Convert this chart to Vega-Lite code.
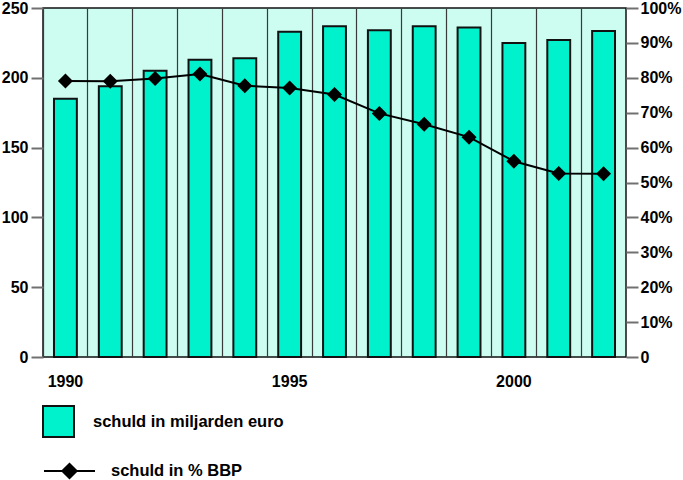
{
  "$schema": "https://vega.github.io/schema/vega-lite/v6.json",
  "width": 583,
  "height": 349,
  "autosize": {"type": "none"},
  "padding": {"left": 43, "top": 8, "right": 57, "bottom": 123},
  "background": "white",
  "config": {
    "view": {"fill": "#CDFCF1", "stroke": "#111111", "strokeWidth": 1.5},
    "font": "Liberation Sans",
    "axis": {
      "labelFont": "Liberation Sans",
      "labelFontSize": 16,
      "labelFontWeight": "bold",
      "labelColor": "#000000",
      "title": null
    },
    "legend": {
      "labelFont": "Liberation Sans",
      "labelFontSize": 16.5,
      "labelFontWeight": "bold",
      "labelColor": "#000000",
      "labelLimit": 400,
      "padding": 0,
      "title": null
    }
  },
  "data": {
    "values": [
      {"year": 1990, "schuld": 185, "pct": 79.1},
      {"year": 1991, "schuld": 194, "pct": 79.0},
      {"year": 1992, "schuld": 205, "pct": 79.8},
      {"year": 1993, "schuld": 213, "pct": 81.1},
      {"year": 1994, "schuld": 214, "pct": 77.7},
      {"year": 1995, "schuld": 233, "pct": 77.1},
      {"year": 1996, "schuld": 237, "pct": 75.2},
      {"year": 1997, "schuld": 234, "pct": 69.8},
      {"year": 1998, "schuld": 237, "pct": 66.7},
      {"year": 1999, "schuld": 236, "pct": 63.0},
      {"year": 2000, "schuld": 225, "pct": 56.1},
      {"year": 2001, "schuld": 227, "pct": 52.6},
      {"year": 2002, "schuld": 233.5, "pct": 52.5}
    ]
  },
  "encoding": {
    "x": {
      "field": "year",
      "type": "ordinal",
      "scale": {"paddingInner": 0, "paddingOuter": 0},
      "axis": {
        "orient": "bottom",
        "bandPosition": 0,
        "grid": true,
        "gridColor": "#3a3a3a",
        "gridWidth": 1.2,
        "gridOpacity": 1,
        "ticks": false,
        "domain": false,
        "labelAngle": 0,
        "labelPadding": 16,
        "labelExpr": "indexof(['1990','1995','2000'], datum.label) >= 0 ? datum.label : ''"
      }
    }
  },
  "layer": [
    {
      "mark": {"type": "bar", "width": {"band": 0.51}, "stroke": "#111111", "strokeWidth": 2},
      "encoding": {
        "y": {
          "field": "schuld",
          "type": "quantitative",
          "scale": {"domain": [0, 250], "nice": false},
          "axis": {
            "orient": "left",
            "values": [0, 50, 100, 150, 200, 250],
            "grid": false,
            "domain": false,
            "tickSize": 12,
            "tickWidth": 2,
            "tickColor": "#707070",
            "labelPadding": 3
          }
        },
        "fill": {
          "datum": "schuld in miljarden euro",
          "type": "nominal",
          "scale": {"range": ["#00F2CC"]},
          "legend": {
            "orient": "none",
            "legendX": -1,
            "legendY": 397,
            "symbolType": "square",
            "symbolSize": 961,
            "symbolStrokeColor": "#111111",
            "symbolStrokeWidth": 2,
            "labelOffset": 18,
            "encode": {"symbols": {"update": {"stroke": {"value": "#111111"}, "strokeWidth": {"value": 2}, "fill": {"value": "#00F2CC"}, "opacity": {"value": 1}}}}
          }
        }
      }
    },
    {
      "encoding": {
        "y": {
          "field": "pct",
          "type": "quantitative",
          "scale": {"domain": [0, 100], "nice": false},
          "axis": {
            "orient": "right",
            "values": [0, 10, 20, 30, 40, 50, 60, 70, 80, 90, 100],
            "grid": false,
            "domain": false,
            "tickSize": 12,
            "tickWidth": 2,
            "tickColor": "#707070",
            "labelPadding": 2,
            "labelExpr": "datum.value == 0 ? '0' : (datum.value == 10 ? ' 10%' : datum.value + '%')"
          }
        }
      },
      "layer": [
        {
          "mark": {"type": "line", "strokeWidth": 2},
          "encoding": {
            "stroke": {
              "datum": "schuld in % BBP",
              "type": "nominal",
              "scale": {"range": ["#000000"]},
              "legend": {
                "orient": "none",
                "legendX": 0,
                "legendY": 436.5,
                "symbolType": "M-1,0L1,0M-0.28,0L0,-0.28L0.28,0L0,0.28Z",
                "symbolSize": 2601,
                "symbolStrokeWidth": 2,
                "labelOffset": 15,
                "encode": {"symbols": {"update": {"fill": {"value": "#000000"}, "stroke": {"value": "#000000"}, "strokeWidth": {"value": 2}, "opacity": {"value": 1}}}}
              }
            }
          }
        },
        {
          "mark": {"type": "point", "shape": "diamond", "filled": true, "size": 225, "color": "#000000", "opacity": 1}
        }
      ]
    }
  ],
  "resolve": {"scale": {"y": "independent"}}
}
